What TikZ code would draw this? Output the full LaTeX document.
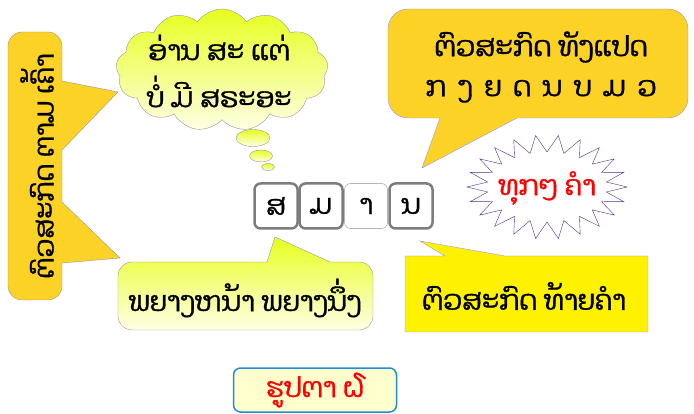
\documentclass[tikz,border=0pt]{standalone}
\usepackage{fontspec}
\usepackage{xcolor}
\usepackage{tikz}
\usetikzlibrary{shapes.symbols}
\newfontfamily\laofont[Script=Lao, FakeBold=1.2]{Dhyana}
\definecolor{goldfill}{RGB}{253,210,38}
\definecolor{limetop}{RGB}{230,255,30}
\definecolor{limebot}{RGB}{255,255,228}
\definecolor{edgegray}{RGB}{150,150,150}
\definecolor{edgeblue}{RGB}{150,150,235}
\definecolor{boxgray}{RGB}{125,125,125}
\definecolor{starline}{RGB}{88,45,140}
\definecolor{capblue}{RGB}{30,140,215}
\definecolor{capfill}{RGB}{255,255,205}
\tikzset{
  laotext/.style={font=\laofont\fontsize{27.5}{47}\selectfont, align=center},
  thickbox/.style={laotext, draw=boxgray, line width=2.5pt, rounded corners=6pt,
    minimum width=43pt, minimum height=45pt, fill=white},
  thinbox/.style={laotext, draw=edgegray!70, line width=0.6pt, rounded corners=6pt,
    minimum width=43pt, minimum height=45pt, fill=white},
}

\begin{document}
\begin{tikzpicture}[x=1pt, y=-1pt]
    \useasboundingbox (0,0) rectangle (694,414);
    % left callout
    \draw[edgegray, fill=goldfill] (62,81) [rounded corners=14pt] -- (62,32) -- (8,32)
        -- (8,300) -- (62,300) [sharp corners] -- (62,263) -- (120,258) -- (62,202)
        -- (62,150) -- (118,92) -- cycle;
    \node[laotext, rotate=90] (lefttext) at (37,166) {ຕົວສະກົດ ຕາມ ເຄົ້າ};
    % cloud
    \node[cloud, cloud puffs=13, cloud puff arc=110, aspect=1.8, draw=edgegray,
        top color=limetop, bottom color=limebot, minimum width=212pt,
        minimum height=122pt] (cloud) at (222,70) {};
    \foreach \x/\y/\rx/\ry in {253/138/17/8.5, 261/156/11.5/6, 268/167/6.5/3.5}
        \draw[edgegray, top color=limetop, bottom color=limebot] (\x,\y) ellipse (\rx pt and \ry pt);
    \node[laotext] (cloudtext) at (219,71) {ອ່ານ ສະ ແຕ່\\ບໍ່ ມີ ສຣະອະ};
    % top right callout
    \draw[edgeblue, fill=goldfill] (517,118) [rounded corners=20pt] -- (688,118) -- (688,9)
        -- (388,9) -- (388,118) [sharp corners] -- (440,118) -- (422,168) -- cycle;
    \node[laotext, font=\laofont\fontsize{28}{40}\selectfont] (toptext) at (541,67)
        {ຕົວສະກົດ ທັງແປດ\\ກ\, ງ\, ຍ\, ດ\, ນ\, ບ\, ມ\, ວ};
    % star
    \begin{scope}[shift={(547,187)}]
        \draw[starline, fill=white] (0:80pt and 52pt)
            \foreach \k [evaluate=\k as \rx using {mod(\k,2)==0 ? 80 : 60},
                         evaluate=\k as \ry using {mod(\k,2)==0 ? 52 : 35}] in {1,...,43}
            { -- (\k*360/44:\rx pt and \ry pt) } -- cycle;
    \end{scope}
    \node[laotext, text=red] (startext) at (547,188) {ທຸກໆ ຄຳ};
    % letters
    \foreach \i/\c/\s in {1/ສ/thickbox, 2/ມ/thickbox, 3/າ/thinbox, 4/ນ/thickbox}
        \node[\s] (box\i) at (231+45*\i,206) {\c};
    % bottom left callout
    \draw[edgegray, top color=limetop, bottom color=limebot] (267,262) [rounded corners=14pt]
        -- (118,262) -- (118,330) -- (373,330) -- (373,262) [sharp corners]
        -- (330,262) -- (275,237) -- cycle;
    \node[laotext] (hintleft) at (245,298) {ພຍາງຫນ້າ ພຍາງນຶ່ງ};
    % bottom right callout
    \draw[edgeblue, fill=yellow] (445,256) -- (405,256) -- (405,332) -- (648,332)
        -- (648,256) -- (505,256) -- (420,241) -- cycle;
    \node[laotext] (hintright) at (524,296) {ຕົວສະກົດ ທ້າຍຄຳ};
    \node[laotext, text=red, draw=capblue, line width=1.5pt, fill=capfill,
        rounded corners=7pt, minimum width=163pt, minimum height=44pt] (caption)
        at (315,390) {ຮູປຕາ ໖};
\end{tikzpicture}
\end{document}
